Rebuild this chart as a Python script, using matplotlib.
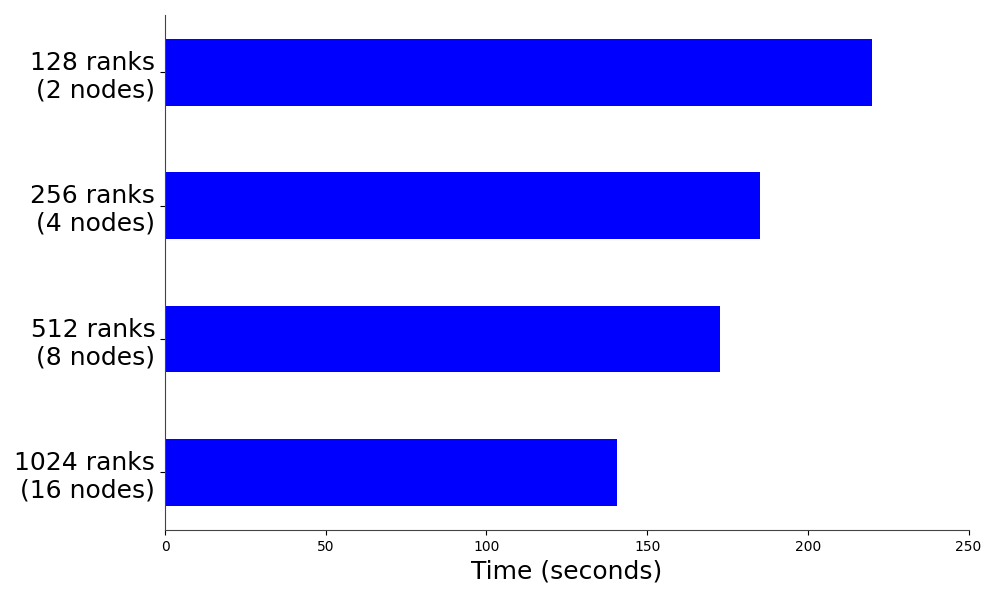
import matplotlib
matplotlib.use("Agg")
import matplotlib.pyplot as plt

labels = ["128 ranks\n(2 nodes)", "256 ranks\n(4 nodes)",
          "512 ranks\n(8 nodes)", "1024 ranks\n(16 nodes)"]
times = [220.1, 185.2, 172.7, 140.6]

fig = plt.figure(figsize=(9.97, 5.98), dpi=100)
ax = fig.add_axes([0.1655, 0.114, 0.806, 0.861])

pos = range(len(labels))
ax.barh(pos, times, height=0.5, color="blue")
ax.set_yticks(list(pos))
ax.set_yticklabels(labels, fontsize=18)
ax.set_ylim(3.43, -0.43)
ax.set_xlim(0, 250)
ax.tick_params(axis="x", labelsize=10)
ax.set_xlabel("Time (seconds)", fontsize=18)

for side in ["top", "right"]:
    ax.spines[side].set_visible(False)
for side in ["left", "bottom"]:
    ax.spines[side].set_color("#444444")

fig.savefig("out.png", dpi=100)
